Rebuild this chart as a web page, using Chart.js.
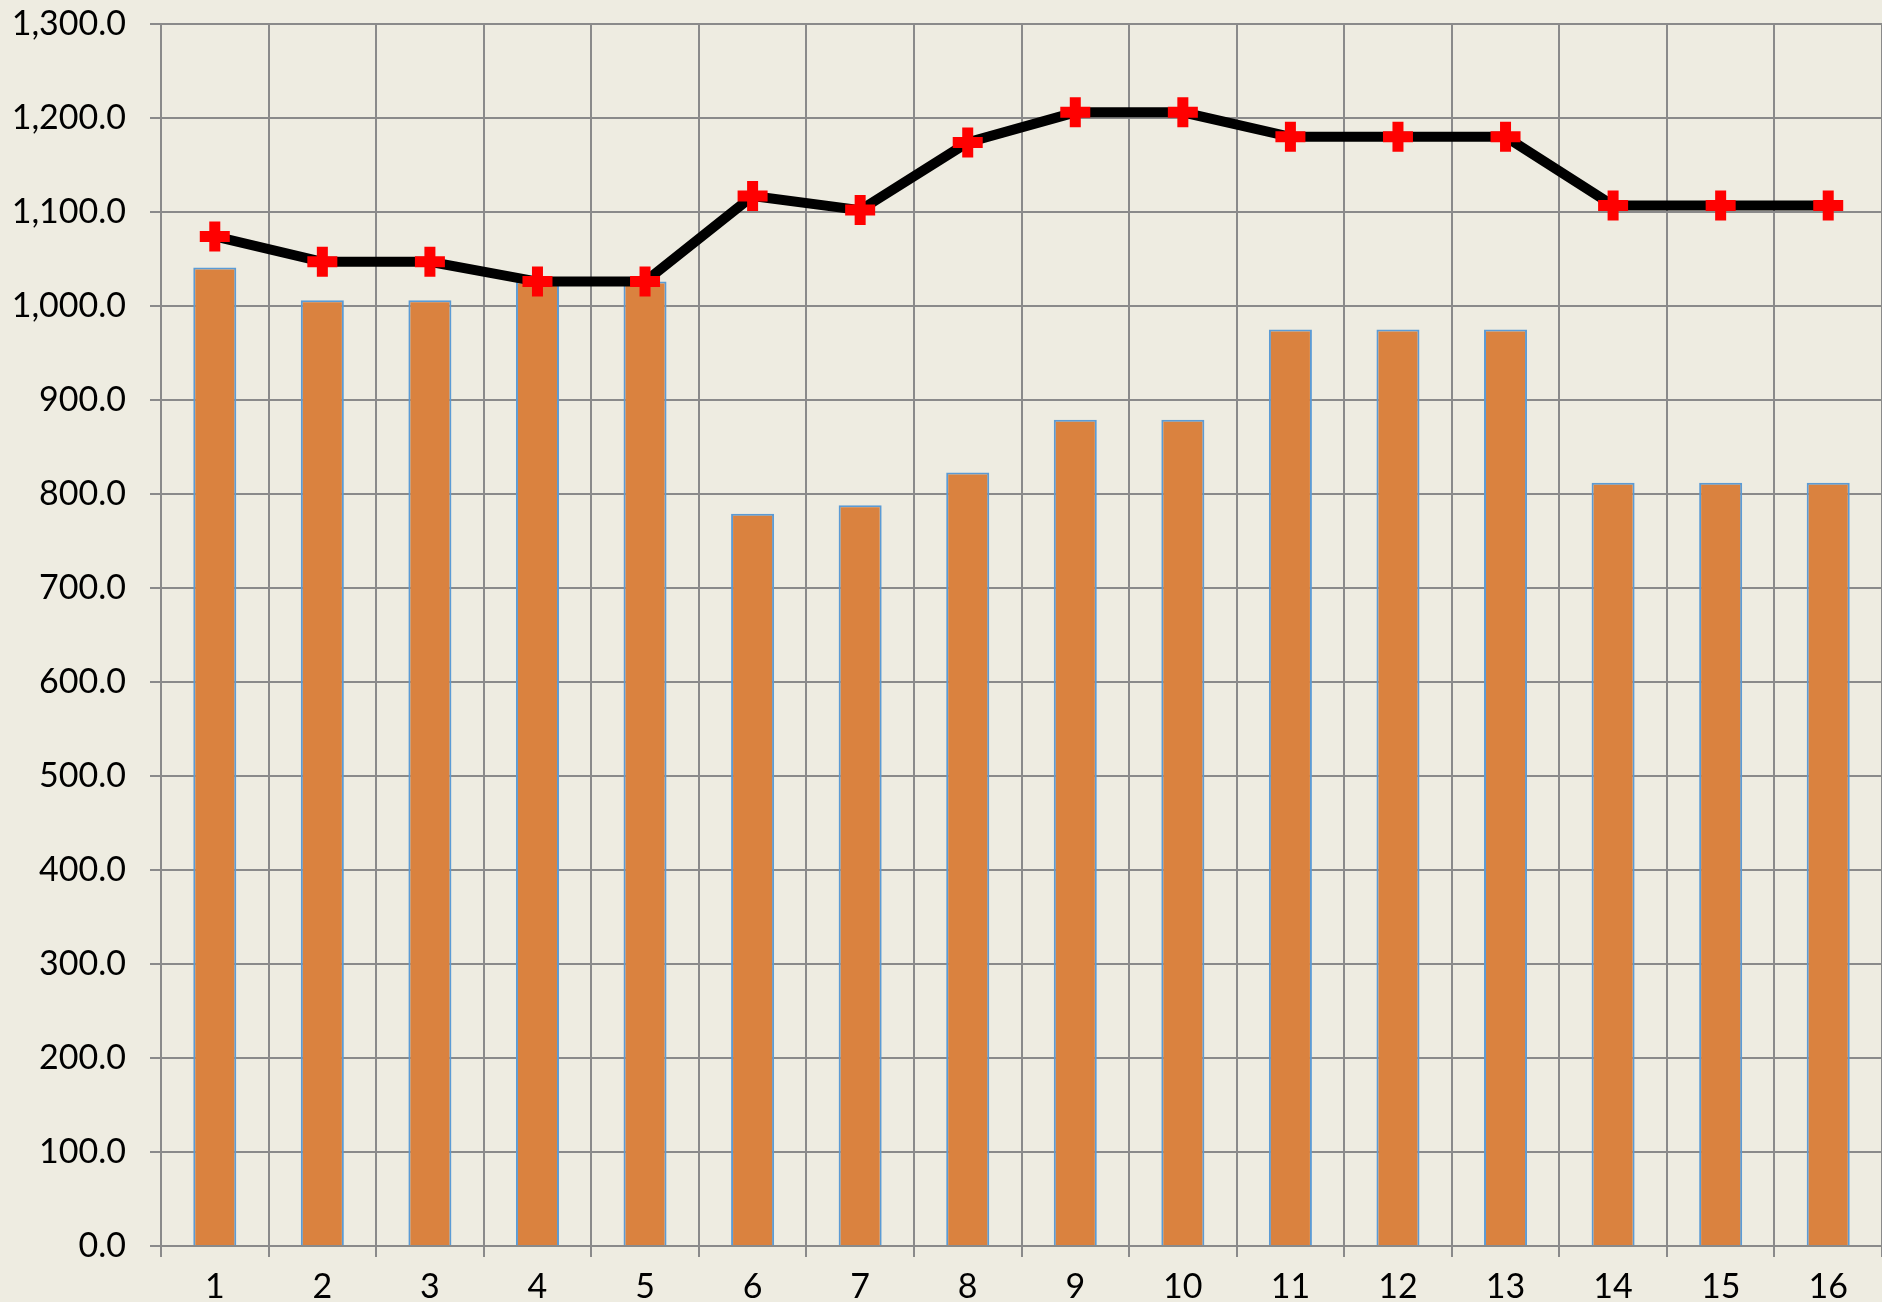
<!DOCTYPE html>
<html>
<head>
<meta charset="utf-8">
<script src="https://cdn.jsdelivr.net/npm/chart.js@4/dist/chart.umd.min.js"></script>
<style>
    html, body { margin: 0; padding: 0; background: #EEECE1; overflow: hidden; }
    .chart-container { width: 1882px; height: 1302px; position: relative; }
</style>
</head>
<body>
<div class="chart-container">
    <canvas id="comboChart"></canvas>
</div>
<script>
// Values
const categories = ['1', '2', '3', '4', '5', '6', '7', '8', '9', '10', '11', '12', '13', '14', '15', '16'];
const barValues = [1041, 1006, 1006, 1026, 1026, 779, 788, 823, 879, 879, 975, 975, 975, 812, 812, 812];
const lineValues = [1074, 1047, 1047, 1026, 1026, 1117, 1102, 1174, 1206, 1206, 1180, 1180, 1180, 1107, 1107, 1107];
const yMin = 0;
const yMax = 1300;
const yStep = 100;

const gridColor = '#8A8A8A';

// drop the extra room Chart.js keeps for edge labels
function noEdgePadding(scale) {
    scale.paddingTop = 0;
    scale.paddingBottom = 0;
    scale.paddingLeft = 0;
    scale.paddingRight = 0;
}

const ctx = document.getElementById('comboChart').getContext('2d');
new Chart(ctx, {
    data: {
        labels: categories,
        datasets: [{
            type: 'line',
            data: lineValues,
            order: 0,
            borderColor: '#000000',
            borderWidth: 10,
            tension: 0,
            fill: false,
            pointStyle: 'cross',
            pointRadius: 15,
            pointHoverRadius: 15,
            pointBorderWidth: 11,
            pointBorderColor: '#FF0000',
            pointBackgroundColor: '#FF0000'
        }, {
            type: 'bar',
            data: barValues,
            order: 1,
            backgroundColor: '#DA823F',
            borderColor: '#5B9BD5',
            borderWidth: 2,
            barPercentage: 0.4,
            categoryPercentage: 1.0
        }]
    },
    options: {
        responsive: true,
        maintainAspectRatio: false,
        animation: false,
        layout: {
            autoPadding: false,
            // plot runs a few pixels past the right edge in the original
            padding: { top: 24, right: -4, left: 0, bottom: 0 }
        },
        plugins: {
            legend: { display: false },
            tooltip: { enabled: false }
        },
        scales: {
            x: {
                grid: {
                    color: gridColor,
                    lineWidth: 2,
                    tickLength: 11,
                    offset: true
                },
                border: { color: gridColor, width: 2 },
                ticks: {
                    color: '#000000',
                    font: { family: 'Lato', size: 34 },
                    padding: 10,
                    maxRotation: 0
                },
                afterFit: function (scale) {
                    scale.height = 56;
                    noEdgePadding(scale);
                }
            },
            y: {
                min: yMin,
                max: yMax,
                grid: {
                    color: gridColor,
                    lineWidth: 2,
                    tickLength: 11
                },
                border: { color: gridColor, width: 2 },
                ticks: {
                    stepSize: yStep,
                    color: '#000000',
                    font: { family: 'Lato', size: 34 },
                    padding: 24,
                    callback: function (value) {
                        return value.toLocaleString('en-US', { minimumFractionDigits: 1, maximumFractionDigits: 1 });
                    }
                },
                afterFit: function (scale) {
                    scale.width = 161;
                    noEdgePadding(scale);
                }
            }
        }
    }
});
</script>
</body>
</html>
